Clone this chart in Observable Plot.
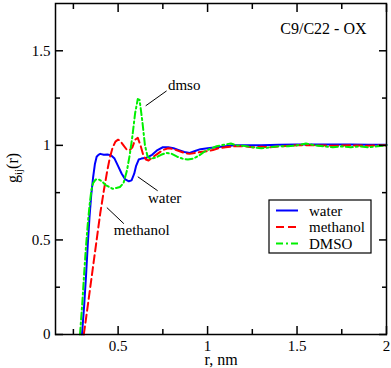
<!DOCTYPE html>
<html>
<head>
<meta charset="utf-8">
<script src="https://cdn.jsdelivr.net/npm/d3@7"></script>
<script src="https://cdn.jsdelivr.net/npm/@observablehq/plot@0.6"></script>
<style>
  html, body { margin: 0; padding: 0; background: #fff; }
  #chart svg { display: block; }
</style>
</head>
<body>
<div id="chart"></div>
<script>
// ---- data ----
const waterR = [0.298,0.31,0.32,0.33,0.34,0.35,0.36,0.37,0.38,0.39,0.40,0.42,0.44,0.46,0.48,0.50,0.52,0.54,0.56,0.575,0.59,0.60,0.615,0.63,0.66,0.69,0.72,0.75,0.78,0.81,0.84,0.87,0.90,0.93,0.96,1.0,1.05,1.1,1.15,1.2,1.3,1.4,1.5,1.6,1.7,1.8,1.9,2.0];
const waterG = [0,0.15,0.3,0.47,0.62,0.74,0.83,0.90,0.94,0.95,0.955,0.95,0.952,0.948,0.93,0.89,0.85,0.82,0.81,0.815,0.85,0.89,0.925,0.93,0.935,0.95,0.975,0.99,0.99,0.985,0.975,0.965,0.96,0.97,0.98,0.985,0.99,0.995,1.0,1.0,1.0,1.003,1.005,1.005,1.005,1.005,1.003,1.003];

const methR = [0.308,0.32,0.34,0.36,0.38,0.40,0.42,0.44,0.455,0.47,0.485,0.50,0.51,0.53,0.55,0.565,0.58,0.595,0.61,0.625,0.64,0.655,0.67,0.69,0.72,0.75,0.78,0.81,0.84,0.87,0.90,0.93,0.96,1.0,1.03,1.06,1.1,1.15,1.2,1.25,1.3,1.35,1.4,1.5,1.6,1.7,1.8,1.9,2.0];
const methG = [0,0.08,0.22,0.36,0.50,0.64,0.76,0.87,0.94,0.99,1.02,1.03,1.025,1.0,0.975,0.975,0.99,1.03,1.04,1.0,0.95,0.925,0.92,0.935,0.955,0.975,0.985,0.98,0.97,0.96,0.955,0.96,0.965,0.97,0.975,0.985,0.99,0.995,0.995,0.99,0.993,0.99,0.995,1.0,1.0,0.998,1.0,0.998,1.0];

const dmsoR = [0.287,0.30,0.31,0.32,0.33,0.34,0.35,0.36,0.375,0.39,0.41,0.43,0.45,0.47,0.49,0.51,0.53,0.55,0.565,0.58,0.595,0.61,0.62,0.635,0.65,0.665,0.68,0.71,0.74,0.77,0.80,0.83,0.86,0.89,0.92,0.95,0.98,1.01,1.05,1.1,1.13,1.16,1.2,1.25,1.3,1.35,1.4,1.45,1.5,1.55,1.6,1.65,1.7,1.75,1.8,1.85,1.9,1.95,2.0];
const dmsoG = [0,0.17,0.32,0.46,0.58,0.68,0.76,0.80,0.82,0.82,0.81,0.79,0.78,0.77,0.775,0.78,0.80,0.87,0.95,1.05,1.17,1.245,1.24,1.13,1.0,0.94,0.93,0.935,0.95,0.96,0.955,0.94,0.93,0.925,0.93,0.945,0.965,0.98,0.995,1.005,1.01,1.0,0.998,0.99,0.985,0.99,0.995,0.995,1.0,1.01,1.0,0.995,0.99,0.995,0.99,0.995,0.99,0.995,1.0];

const seriesNames = ["water", "methanol", "DMSO"];
const seriesColors = ["#0000ff", "#ff0000", "#00f000"];
const seriesDash = [null, "8,4", "7,3,2,3"];

const xMajor = [0.5, 1, 1.5, 2];
const xMinor = [0.25, 0.75, 1.25, 1.75];
const yMajor = [0, 0.5, 1, 1.5];
const yMinor = [0.25, 0.75, 1.25];

const xLabel = "r, nm";
const panelTitle = "C9/C22 - OX";
const notes = [
  {text: "dmso", x: 0.869, y: 1.32, x1: 0.654, y1: 1.209, x2: 0.771, y2: 1.288},
  {text: "water", x: 0.760, y: 0.723, x1: 0.610, y1: 0.834, x2: 0.721, y2: 0.760},
  {text: "methanol", x: 0.632, y: 0.549, x1: 0.437, y1: 0.671, x2: 0.532, y2: 0.586}
];

// ---- build table ----
const rows = [];
[[waterR, waterG], [methR, methG], [dmsoR, dmsoG]].forEach(([rs, gs], i) => {
  rs.forEach((r, j) => rows.push({r, g: gs[j], s: seriesNames[i]}));
});

const font = "Liberation Serif";
const fmt = d => String(d);

const lineMarks = seriesNames.map((name, i) =>
  Plot.line(rows.filter(d => d.s === name), {
    x: "r", y: "g", stroke: seriesColors[i], strokeWidth: 2,
    strokeDasharray: seriesDash[i], strokeLinejoin: "round"
  })
);

const ax = {label: null, strokeWidth: 1.5, fontFamily: font};

const chart = Plot.plot({
  width: 391, height: 368,
  marginLeft: 55, marginRight: 5, marginTop: 3, marginBottom: 34,
  style: {fontFamily: font, fontSize: "15px", color: "#000", background: "#fff"},
  x: {domain: [0.15, 2]},
  y: {domain: [0, 1.75]},
  marks: [
    ...lineMarks,
    Plot.frame({stroke: "#000", strokeWidth: 1.5}),
    Plot.axisX(xMajor, {...ax, anchor: "bottom", tickSize: -8, tickPadding: 14, tickFormat: fmt}),
    Plot.axisX(xMinor, {...ax, anchor: "bottom", tickSize: -5, tickFormat: () => ""}),
    Plot.axisX(xMajor, {...ax, anchor: "top", tickSize: -8, tickFormat: () => ""}),
    Plot.axisX(xMinor, {...ax, anchor: "top", tickSize: -5, tickFormat: () => ""}),
    Plot.axisY(yMajor, {...ax, anchor: "left", tickSize: -8, tickPadding: 13, tickFormat: fmt}),
    Plot.axisY(yMinor, {...ax, anchor: "left", tickSize: -5, tickFormat: () => ""}),
    Plot.axisY(yMajor, {...ax, anchor: "right", tickSize: -8, tickFormat: () => ""}),
    Plot.axisY(yMinor, {...ax, anchor: "right", tickSize: -5, tickFormat: () => ""}),
    Plot.text([xLabel], {frameAnchor: "bottom", dy: 25, text: d => d, fontSize: 16, fontFamily: font, lineAnchor: "middle"}),
    Plot.text([panelTitle], {frameAnchor: "top-right", dx: -20, dy: 30, text: d => d, fontSize: 16, fontFamily: font, textAnchor: "end", lineAnchor: "bottom"}),
    Plot.link(notes, {x1: "x1", y1: "y1", x2: "x2", y2: "y2", stroke: "#000", strokeWidth: 1}),
    Plot.text(notes, {x: "x", y: "y", text: "text", fontSize: 15, fontFamily: font})
  ]
});

const svg = d3.select(chart);
// y-axis label with subscript
const yl = svg.append("text")
  .attr("transform", "translate(18,168) rotate(-90)")
  .attr("text-anchor", "middle")
  .attr("font-family", font)
  .attr("font-size", 16)
  .attr("fill", "#000");
yl.append("tspan").text("g");
yl.append("tspan").attr("font-size", 11).attr("dy", 4).text("ij");
yl.append("tspan").attr("dy", -4).text("(r)");

// legend box
const lg = svg.append("g").attr("font-family", font).attr("font-size", 15).attr("text-anchor", "start");
lg.append("rect").attr("x", 269).attr("y", 200).attr("width", 102).attr("height", 53)
  .attr("fill", "#fff").attr("stroke", "#000").attr("stroke-width", 1.2);
seriesNames.forEach((name, i) => {
  const yy = 210.5 + i * 16.5;
  lg.append("line").attr("x1", 276).attr("x2", 298).attr("y1", yy).attr("y2", yy)
    .attr("stroke", seriesColors[i]).attr("stroke-width", 2)
    .attr("stroke-dasharray", seriesDash[i]);
  lg.append("text").attr("x", 309).attr("y", yy + 5).attr("fill", "#000")
    .attr("text-anchor", "start").text(name);
});

document.getElementById("chart").appendChild(chart);
</script>
</body>
</html>
